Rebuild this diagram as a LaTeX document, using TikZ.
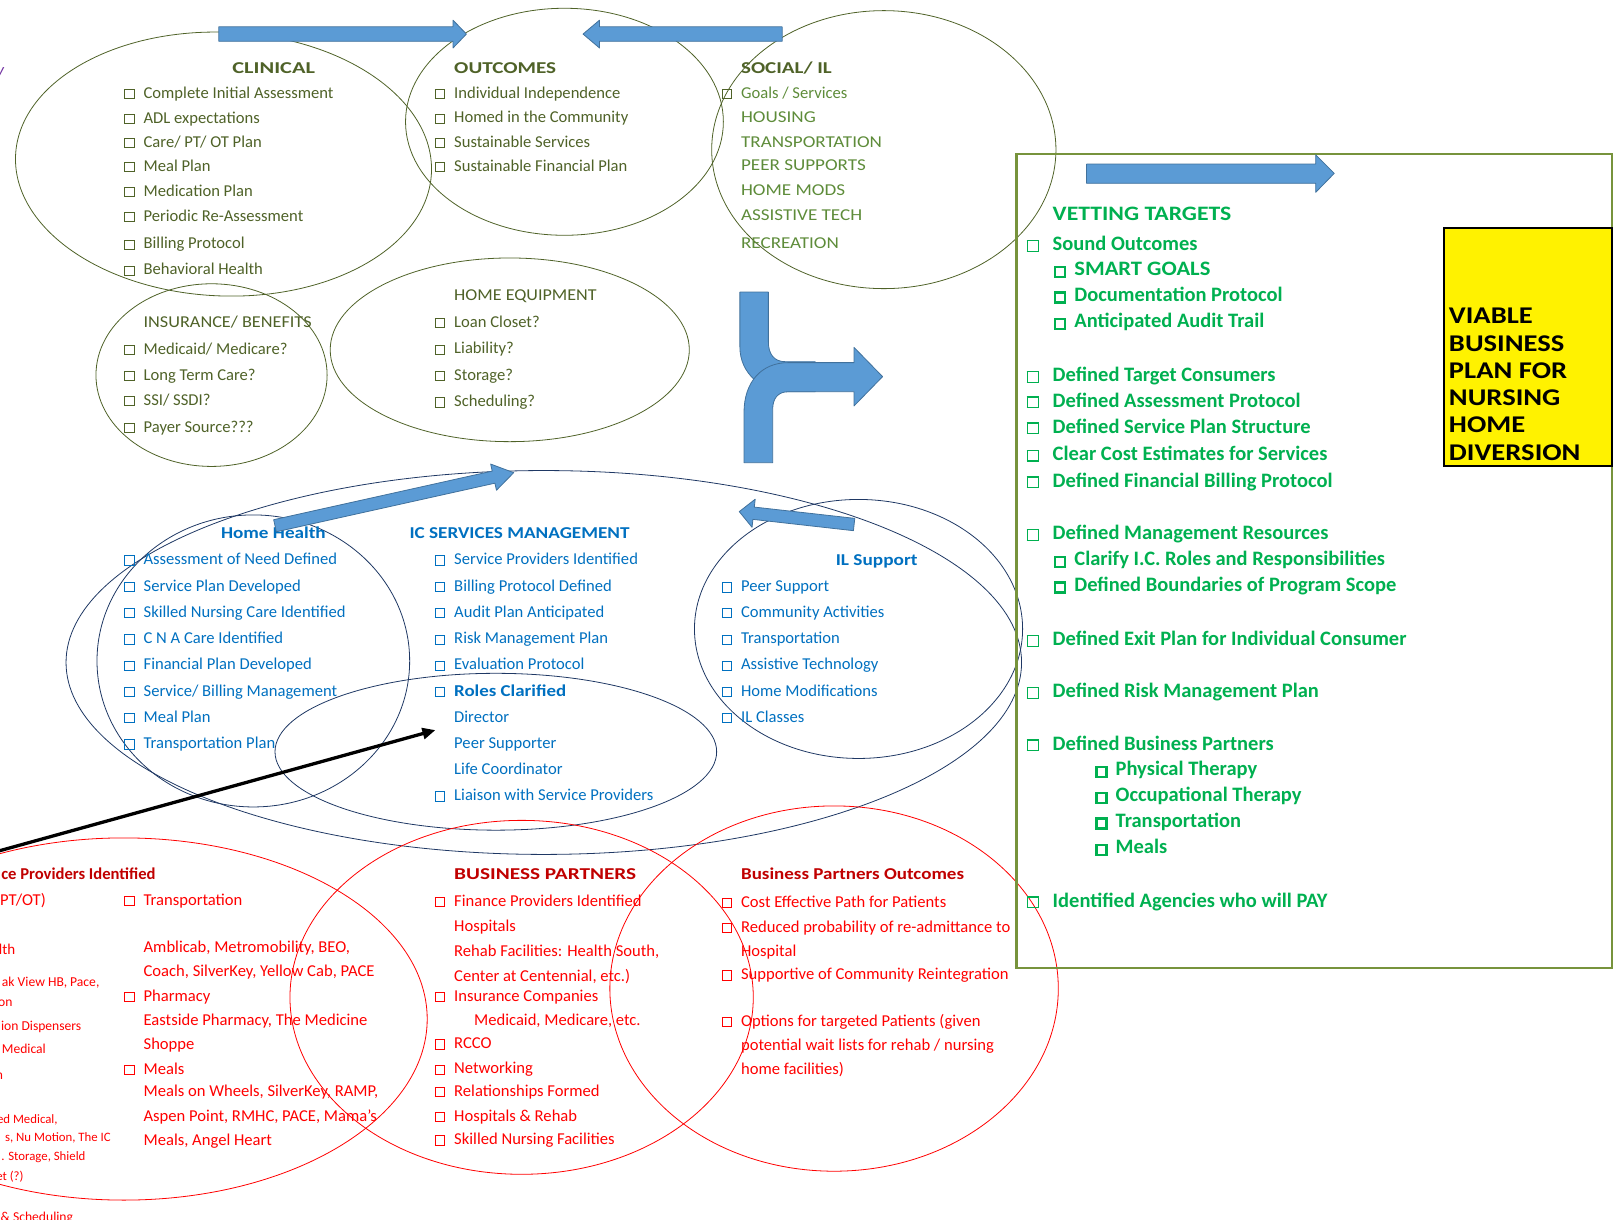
\documentclass[tikz,border=0pt]{standalone}
\usepackage{fontspec}
\setmainfont{Carlito}
\usepackage{graphicx}
\usetikzlibrary{arrows.meta}
\definecolor{dg}{HTML}{4F6228}
\definecolor{sg}{HTML}{5E8C3A}
\definecolor{bl}{HTML}{0070C0}
\definecolor{nv}{HTML}{1F3864}
\definecolor{rd}{HTML}{FF0000}
\definecolor{dr}{HTML}{C00000}
\definecolor{vg}{HTML}{00B050}
\definecolor{og}{HTML}{77933C}
\definecolor{af}{HTML}{5B9BD5}
\definecolor{ab}{HTML}{41719C}
\definecolor{pu}{HTML}{7030A0}
\newcommand\cbx{\llap{\fboxsep=0pt\fboxrule=1pt\fbox{\rule{0pt}{8.3pt}\rule{8.3pt}{0pt}}\hspace{9pt}}}
\newcommand\cbv{\llap{\fboxsep=0pt\fboxrule=1.2pt\fbox{\rule{0pt}{9.6pt}\rule{9.6pt}{0pt}}\hspace{14pt}}}
\newcommand\cbb{\llap{\fboxsep=0pt\fboxrule=2.4pt\fbox{\rule{0pt}{7.6pt}\rule{7.6pt}{0pt}}\hspace{8pt}}}
\newcommand\Wd[2]{\resizebox{#1pt}{\height}{#2}}
\newcommand\Cs[1]{\scalebox{1.15}[1]{#1}}
\newcommand\Vs[1]{\scalebox{1.19}[1]{#1}}
\newcommand\fN{\fontsize{16.6}{20}\selectfont}
\newcommand\fB{\fontsize{16.6}{20}\selectfont\bfseries}
\newcounter{tn}
\newcommand\Tx[4]{\stepcounter{tn}\node[#1] (t\arabic{tn}) at (#2,#3) {#4};}
\tikzset{
  txt/.style={inner sep=0pt, anchor=base west, yshift=-5.5pt, font=\fN},
  gI/.style={txt, text=dg},
  gH/.style={txt, text=dg, font=\fB},
  sI/.style={txt, text=sg},
  bI/.style={txt, text=bl},
  bH/.style={txt, text=bl, font=\fB},
  rI/.style={txt, text=rd},
  rH/.style={txt, text=dr, font=\fB},
  rS/.style={txt, text=rd, anchor=base east, yshift=-4.5pt, font=\fontsize{13.6}{16}\selectfont},
  rT/.style={txt, text=rd, anchor=base east, yshift=-4.3pt, font=\fontsize{12.8}{15}\selectfont},
  vI/.style={txt, text=vg, font=\fontsize{20.5}{24}\selectfont\bfseries, yshift=-1.8pt},
  yB/.style={txt, text=black, font=\fontsize{24}{28}\selectfont\bfseries, yshift=-3pt},
  ge/.style={draw=dg, line width=0.8pt},
  be/.style={draw=nv, line width=0.8pt},
  re/.style={draw=rd, line width=0.8pt},
  ba/.style={fill=af, draw=ab, line width=0.8pt, line join=round},
}
\begin{document}
\begin{tikzpicture}[x=1.0319pt,y=-1.0319pt]
\useasboundingbox (0,0) rectangle (1568,1182);
\clip (0,0) rectangle (1568,1182);
% ellipses
\draw[ge, rotate around={-2.3:(216.6,159)}] (216.6,159) ellipse [x radius=201.7, y radius=127.8];
\draw[ge] (547,118) ellipse [x radius=154, y radius=110];
\draw[ge] (856.5,145) ellipse [x radius=166.8, y radius=134.7];
\draw[ge] (205,363.5) ellipse [x radius=112, y radius=88.5];
\draw[ge] (494,339) ellipse [x radius=174, y radius=89];
\draw[be] (527,642) ellipse [x radius=463, y radius=186];
\draw[be] (245.5,640.5) ellipse [x radius=151.5, y radius=141.5];
\draw[be] (480.5,728.5) ellipse [x radius=214, y radius=76];
\draw[be] (832,609.5) ellipse [x radius=159, y radius=125.5];
\draw[re] (120,987.5) ellipse [x radius=294, y radius=175.5];
\draw[re] (505.5,966.5) ellipse [x radius=224.5, y radius=171.5];
\draw[re] (808.3,958) ellipse [x radius=217.3, y radius=177];
% boxes
\draw[draw=og, line width=2.2pt] (985,149) rectangle (1562,937.7);
\draw[fill=yellow, draw=black, line width=2pt] (1399,221) rectangle (1562,451.5);
% purple fragment
\Tx{txt,text=pu,anchor=base east,font=\fN\itshape}{4}{68}{y}
% CLINICAL
\Tx{gH}{225}{66.2}{\Wd{82.6}{CLINICAL}}
\Tx{gI}{139}{89.8}{\cbx Complete Initial Assessment}
\Tx{gI}{139}{114}{\cbx ADL expectations}
\Tx{gI}{139}{137.3}{\cbx Care/ PT/ OT Plan}
\Tx{gI}{139}{160.5}{\cbx Meal Plan}
\Tx{gI}{139}{184.8}{\cbx Medication Plan}
\Tx{gI}{139}{209}{\cbx Periodic Re-Assessment}
\Tx{gI}{139}{235.8}{\cbx Billing Protocol}
\Tx{gI}{139}{261}{\cbx Behavioral Health}
% OUTCOMES
\Tx{gH}{440}{66.2}{\Wd{102}{OUTCOMES}}
\Tx{gI}{440}{89.8}{\cbx Individual Independence}
\Tx{gI}{440}{113.7}{\cbx Homed in the Community}
\Tx{gI}{440}{137.3}{\cbx Sustainable Services}
\Tx{gI}{440}{160.5}{\cbx Sustainable Financial Plan}
% SOCIAL
\Tx{gH}{718}{66.2}{\Wd{90.7}{SOCIAL/ IL}}
\Tx{sI}{718}{89.8}{{\color{dg}\cbx}Goals / Services}
\Tx{sI}{718}{113.7}{\Cs{HOUSING}}
\Tx{sI}{718}{137.3}{\Cs{TRANSPORTATION}}
\Tx{sI}{718}{159.9}{\Cs{PEER SUPPORTS}}
\Tx{sI}{718}{184.1}{\Cs{HOME MODS}}
\Tx{sI}{718}{208.4}{\Cs{ASSISTIVE TECH}}
\Tx{sI}{718}{235.8}{\Cs{RECREATION}}
% INSURANCE
\Tx{gI}{139}{311.7}{\Wd{168}{INSURANCE/ BENEFITS}}
\Tx{gI}{139}{338.2}{\cbx Medicaid/ Medicare?}
\Tx{gI}{139}{363.4}{\cbx Long Term Care?}
\Tx{gI}{139}{387.6}{\cbx SSI/ SSDI?}
\Tx{gI}{139}{413.5}{\cbx Payer Source???}
% HOME EQUIPMENT
\Tx{gI}{440}{285.9}{\Wd{142.4}{HOME EQUIPMENT}}
\Tx{gI}{440}{311.7}{\cbx Loan Closet?}
\Tx{gI}{440}{337.6}{\cbx Liability?}
\Tx{gI}{440}{363.4}{\cbx Storage?}
\Tx{gI}{440}{388.6}{\cbx Scheduling?}
% Home Health
\Tx{bH}{214}{516.8}{\Wd{104.7}{Home Health}}
\Tx{bI}{139}{542}{\cbx Assessment of Need Defined}
\Tx{bI}{139}{567.5}{\cbx Service Plan Developed}
\Tx{bI}{139}{592.7}{\cbx Skilled Nursing Care Identified}
\Tx{bI}{139}{618.5}{\cbx C N A Care Identified}
\Tx{bI}{139}{643.8}{\cbx Financial Plan Developed}
\Tx{bI}{139}{669.3}{\cbx Service/ Billing Management}
\Tx{bI}{139}{694.5}{\cbx Meal Plan}
\Tx{bI}{139}{720.3}{\cbx Transportation Plan}
% IC SERVICES
\Tx{bH}{396.7}{516.8}{\Wd{220}{IC SERVICES MANAGEMENT}}
\Tx{bI}{440}{542}{\cbx Service Providers Identified}
\Tx{bI}{440}{567.5}{\cbx Billing Protocol Defined}
\Tx{bI}{440}{592.7}{\cbx Audit Plan Anticipated}
\Tx{bI}{440}{618.6}{\cbx Risk Management Plan}
\Tx{bI}{440}{643.8}{\cbx Evaluation Protocol}
\Tx{bI}{440}{669.3}{\cbx\Wd{112}{\bfseries Roles Clarified}}
\Tx{bI}{440}{694.5}{Director}
\Tx{bI}{440}{720.3}{Peer Supporter}
\Tx{bI}{440}{745.5}{Life Coordinator}
\Tx{bI}{440}{770.7}{\cbx Liaison with Service Providers}
% IL Support
\Tx{bH}{809.8}{542.7}{\Wd{81.7}{IL Support}}
\Tx{bI}{718}{567.9}{\cbx Peer Support}
\Tx{bI}{718}{592.7}{\cbx Community Activities}
\Tx{bI}{718}{618.6}{\cbx Transportation}
\Tx{bI}{718}{643.8}{\cbx Assistive Technology}
\Tx{bI}{718}{669.3}{\cbx Home Modifications}
\Tx{bI}{718}{694.5}{\cbx IL Classes}
% left red (cut off at the edge, as in the reference)
\Tx{rH,anchor=base east}{151}{847.3}{ce Providers Identified}
\Tx{rI,anchor=base east}{44.6}{872}{PT/OT)}
\Tx{rI,anchor=base east,font=\fontsize{15}{18}\selectfont}{15}{919.6}{lth}
\Tx{rS}{96.5}{946.5}{ak View HB, Pace,}
\Tx{rS}{12.3}{966}{on}
\Tx{rS}{79}{989}{ion Dispensers}
\Tx{rS}{44.6}{1011.7}{Medical}
\Tx{rS}{3}{1036}{n}
\Tx{rT}{56}{1079.6}{ed Medical,}
\Tx{rT}{107.5}{1096.7}{s, Nu Motion, The IC}
\Tx{rT}{83}{1115}{. Storage, Shield}
\Tx{rT}{23}{1134.5}{et (?)}
\Tx{rS}{71}{1174}{\& Scheduling}
% middle red
\Tx{rI}{139}{872}{\cbx Transportation}
\Tx{rI}{139}{917.4}{Amblicab, Metromobility, BEO,}
\Tx{rI}{139}{940.7}{Coach, SilverKey, Yellow Cab, PACE}
\Tx{rI}{139}{964.9}{\cbx Pharmacy}
\Tx{rI}{139}{988.5}{Eastside Pharmacy, The Medicine}
\Tx{rI}{139}{1011.7}{Shoppe}
\Tx{rI}{139}{1035.6}{\cbx Meals}
\Tx{rI}{139}{1057}{Meals on Wheels, SilverKey, RAMP,}
\Tx{rI}{139}{1081.2}{Aspen Point, RMHC, PACE, Mama’s}
\Tx{rI}{139}{1104.7}{Meals, Angel Heart}
% BUSINESS PARTNERS
\Tx{rH}{440}{847.3}{\Wd{182}{BUSINESS PARTNERS}}
\Tx{rI}{440}{873}{\cbx Finance Providers Identified}
\Tx{rI}{440}{897.4}{Hospitals}
\Tx{rI}{440}{921.3}{Rehab Facilities: Health South,}
\Tx{rI}{440}{945.5}{Center at Centennial, etc.)}
\Tx{rI}{440}{964.9}{\cbx Insurance Companies}
\Tx{rI}{459.3}{988.5}{Medicaid, Medicare, etc.}
\Tx{rI}{440}{1011}{\cbx RCCO}
\Tx{rI}{440}{1035.3}{\cbx Networking}
\Tx{rI}{440}{1057}{\cbx Relationships Formed}
\Tx{rI}{440}{1081.2}{\cbx Hospitals \& Rehab}
\Tx{rI}{440}{1104}{\cbx Skilled Nursing Facilities}
% Business Partners Outcomes
\Tx{rH}{718}{847.3}{\Wd{223}{Business Partners Outcomes}}
\Tx{rI}{718}{873.8}{\cbx Cost Effective Path for Patients}
\Tx{rI}{718}{898}{\cbx Reduced probability of re-admittance to}
\Tx{rI}{718}{921.3}{Hospital}
\Tx{rI}{718}{943.9}{\cbx Supportive of Community Reintegration}
\Tx{rI}{718}{989}{\cbx Options for targeted Patients (given}
\Tx{rI}{718}{1012.7}{potential wait lists for rehab / nursing}
\Tx{rI}{718}{1036.3}{home facilities)}
% VETTING
\Tx{vI}{1020}{207}{\Wd{178.7}{VETTING TARGETS}}
\Tx{vI}{1020}{235.8}{\cbv Sound Outcomes}
\Tx{vI}{1041}{260}{\cbb\Wd{136}{SMART GOALS}}
\Tx{vI}{1041}{285}{\cbb Documentation Protocol}
\Tx{vI}{1041}{310.4}{\cbb Anticipated Audit Trail}
\Tx{vI}{1020}{362.7}{\cbv Defined Target Consumers}
\Tx{vI}{1020}{387.6}{\cbv Defined Assessment Protocol}
\Tx{vI}{1020}{412.8}{\cbv Defined Service Plan Structure}
\Tx{vI}{1020}{439}{\cbv Clear Cost Estimates for Services}
\Tx{vI}{1020}{465}{\cbv Defined Financial Billing Protocol}
\Tx{vI}{1020}{516}{\cbv Defined Management Resources}
\Tx{vI}{1041}{541}{\cbb Clarify I.C. Roles and Responsibilities}
\Tx{vI}{1041}{566}{\cbb Defined Boundaries of Program Scope}
\Tx{vI}{1020}{618.6}{\cbv Defined Exit Plan for Individual Consumer}
\Tx{vI}{1020}{669}{\cbv Defined Risk Management Plan}
\Tx{vI}{1020}{720}{\cbv Defined Business Partners}
\Tx{vI}{1081}{744.6}{\cbb Physical Therapy}
\Tx{vI}{1081}{769.8}{\cbb Occupational Therapy}
\Tx{vI}{1081}{794.6}{\cbb Transportation}
\Tx{vI}{1081}{820.5}{\cbb Meals}
\Tx{vI}{1020}{872}{\cbv Identified Agencies who will PAY}
% VIABLE
\Tx{yB}{1404}{305}{\Vs{VIABLE}}
\Tx{yB}{1404}{332.7}{\Vs{BUSINESS}}
\Tx{yB}{1404}{358.6}{\Vs{PLAN FOR}}
\Tx{yB}{1404}{385}{\Vs{NURSING}}
\Tx{yB}{1404}{410.9}{\Vs{HOME}}
\Tx{yB}{1404}{437.7}{\Vs{DIVERSION}}
% block arrows
\draw[ba] (212,26) -- (439,26) -- (439,19.5) -- (452,33) -- (439,46.5) -- (439,40) -- (212,40) -- cycle;
\draw[ba] (758,26) -- (581,26) -- (581,19.5) -- (565,33) -- (581,46.5) -- (581,40) -- (758,40) -- cycle;
\draw[ba] (1053,159) -- (1275,159) -- (1275,150) -- (1293,168) -- (1275,186.4) -- (1275,177.6) -- (1053,177.6) -- cycle;
\begin{scope}[shift={(266.5,509.5)}, rotate=12.54]
\draw[ba] (0,-6) -- (217,-6) -- (217,-13) -- (237,0) -- (217,13) -- (217,6) -- (0,6) -- cycle;
\end{scope}
\begin{scope}[shift={(827.7,508.3)}, rotate=173.59]
\draw[ba] (0,-6) -- (98,-6) -- (98,-13.7) -- (112,0) -- (98,13.7) -- (98,6) -- (0,6) -- cycle;
\end{scope}
% merge arrow
\draw[ba] (717,283) -- (744.6,283) -- (744.6,331) .. controls (744.6,343) and (750,350.5) .. (761,350.5) -- (790,350.5) -- (790,379.6) -- (764,379.6) .. controls (738,379.6) and (717,362) .. (717,336) -- cycle;
\draw[ba] (721,448.4) -- (721,400) .. controls (721,370) and (738,351.4) .. (764,351.4) -- (827.6,351.4) -- (827.6,336.6) -- (855.3,365) -- (827.6,393.4) -- (827.6,379.6) -- (764,379.6) .. controls (754,379.6) and (748.8,386) .. (748.8,396.7) -- (748.8,448.4) -- cycle;
% black arrow
\coordinate (ka) at (-6,826);
\coordinate (kb) at (422,707.5);
\draw[line width=3.3pt, -{Triangle[length=13pt,width=11pt]}] (ka) -- (kb);
\end{tikzpicture}
\end{document}
